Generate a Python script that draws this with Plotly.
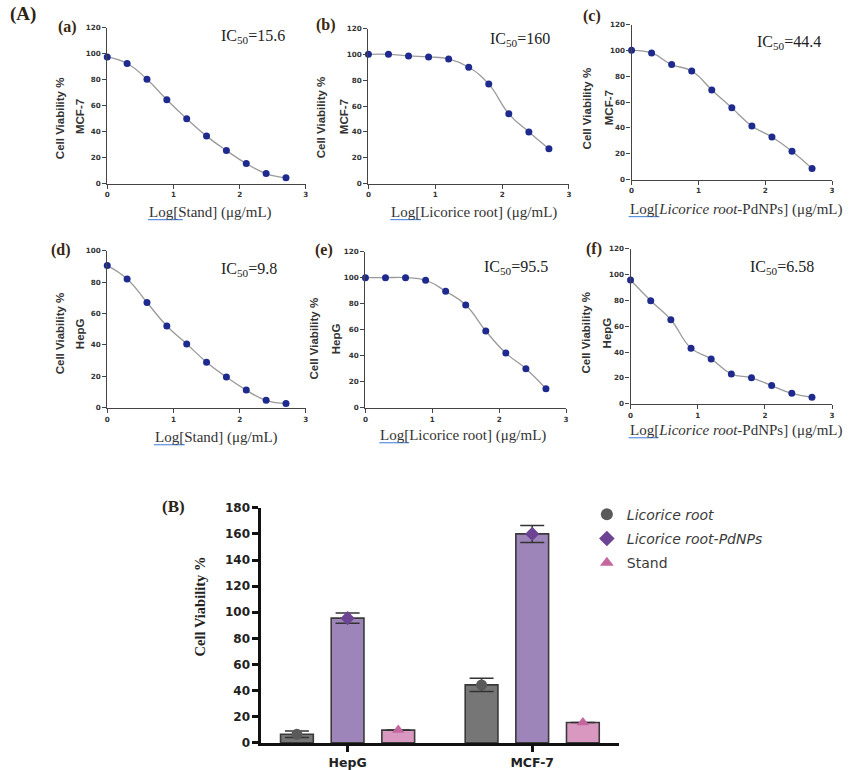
import plotly.graph_objects as go

W, H = 852, 770


def px(x):
    return x / W


def py(y):
    # the photographed page comes out slightly squeezed vertically; compensate
    return 1 - ((y - 7.5) / 0.98) / H


# ---------------- data ----------------
log_conc = [0, 0.3, 0.6, 0.9, 1.2, 1.5, 1.8, 2.1, 2.4, 2.7]
mcf7_stand = [97.4, 92.3, 80.2, 64.5, 49.9, 36.5, 25.4, 15.4, 7.7, 4.4]
mcf7_root = [100, 100, 98.8, 98, 96.5, 90, 77, 54, 40, 27]
mcf7_pdnps = [100, 98, 89, 84, 69.4, 55.5, 41.5, 33, 22, 8.5]
hepg_stand = [90.5, 82, 67, 52, 40.6, 29, 19.5, 11.2, 4.7, 2.7]
hepg_root = [100, 100, 100, 98, 89.5, 79, 59, 42, 30, 14.6]
hepg_pdnps = [95.7, 79.7, 65, 43, 34.6, 23, 20, 14, 8, 5]
ic50_text = ["15.6", "160", "44.4", "9.8", "95.5", "6.58"]
panel_letters = ["(a)", "(b)", "(c)", "(d)", "(e)", "(f)"]
panel_cells = ["MCF-7", "MCF-7", "MCF-7", "HepG", "HepG", "HepG"]
panel_xtitles = [
    "Log[Stand] (μg/mL)",
    "Log[Licorice root] (μg/mL)",
    "Log[<i>Licorice root</i>-PdNPs] (μg/mL)",
    "Log[Stand] (μg/mL)",
    "Log[Licorice root] (μg/mL)",
    "Log[<i>Licorice root</i>-PdNPs] (μg/mL)",
]
panel_ymax = [120, 120, 120, 100, 120, 120]

cell_lines = ["HepG", "MCF-7"]
bar_root = [6.58, 44.4]
bar_pdnps = [95.5, 160]
bar_stand = [9.8, 15.6]
err_root = [2.5, 5.0]
err_pdnps = [4.0, 6.5]
err_stand = [0.0, 0.0]
series_names = ["<i>Licorice root</i>", "<i>Licorice root-PdNPs</i>", "Stand"]

# ---------------- layout geometry (pixels) ----------------
panel_box = [
    (105, 305, 184, 28),
    (368, 570, 184, 29),
    (633, 835, 180, 25),
    (105, 305, 408, 251),
    (365, 567, 408, 252),
    (632, 835, 404, 249),
]
letter_pos = [(53, 27), (313, 25), (582, 16), (46, 250), (312, 250), (585, 249)]
ic50_pos = [(218, 37), (488, 40), (757, 43), (218, 270), (482, 268), (750, 268)]
ytitle1_pos = [(57, 119), (320, 118), (588, 109), (57, 334), (313, 339), (587, 333)]
ytitle2_pos = [(77, 117), (343, 117), (610, 108), (77, 334), (335, 339), (608, 333)]
xtitle_pos = [(145, 213), (389, 213), (629, 210), (151, 438), (378, 436), (629, 431)]
underline_len = [35, 31, 31, 31, 30, 30]

curves = [mcf7_stand, mcf7_root, mcf7_pdnps, hepg_stand, hepg_root, hepg_pdnps]

fig = go.Figure()
layout = dict(
    width=W, height=H,
    margin=dict(l=0, r=0, t=0, b=0),
    paper_bgcolor="white", plot_bgcolor="white",
    showlegend=True,
    annotations=[], shapes=[],
)

axis_col = "#444444"
small_tick_font = dict(family="DejaVu Sans", size=7.2, color="#333333", weight="bold")

for i in range(6):
    n = i + 1
    xa = "x" if n == 1 else f"x{n}"
    ya = "y" if n == 1 else f"y{n}"
    l, r, b, t = panel_box[i]
    layout[f"xaxis{'' if n == 1 else n}"] = dict(
        domain=[px(l), px(r)], range=[0, 3], dtick=1, anchor=ya,
        showline=True, linecolor=axis_col, linewidth=1.3,
        ticks="outside", ticklen=4, tickwidth=1.3, tickcolor=axis_col,
        showgrid=False, zeroline=False, tickfont=small_tick_font,
    )
    layout[f"yaxis{'' if n == 1 else n}"] = dict(
        domain=[py(b), py(t)], range=[0, panel_ymax[i]], dtick=20, anchor=xa,
        showline=True, linecolor=axis_col, linewidth=1.3,
        ticks="outside", ticklen=4, tickwidth=1.3, tickcolor=axis_col,
        showgrid=False, zeroline=False, tickfont=small_tick_font,
    )
    fig.add_trace(go.Scatter(
        x=log_conc, y=curves[i], mode="lines+markers", xaxis=xa, yaxis=ya,
        line=dict(shape="spline", smoothing=1.3, color="#9a9a9a", width=1.3),
        marker=dict(color="#1f2a8e", size=7),
        cliponaxis=False, showlegend=False, hoverinfo="x+y",
    ))
    ann = layout["annotations"]
    lx, ly = letter_pos[i]
    ann.append(dict(x=px(lx), y=py(ly), xref="paper", yref="paper", xanchor="left",
                    yanchor="middle", showarrow=False, text="<b>" + panel_letters[i] + "</b>",
                    font=dict(family="Liberation Serif", size=16, color="#3a2812")))
    ix, iy = ic50_pos[i]
    ann.append(dict(x=px(ix), y=py(iy), xref="paper", yref="paper", xanchor="left",
                    yanchor="middle", showarrow=False,
                    text="IC<sub>50</sub>=" + ic50_text[i],
                    font=dict(family="Liberation Serif", size=16, color="#222222")))
    t1x, t1y = ytitle1_pos[i]
    ann.append(dict(x=px(t1x), y=py(t1y), xref="paper", yref="paper", xanchor="center",
                    yanchor="middle", showarrow=False, textangle=-90,
                    text="<b>Cell Viability %</b>",
                    font=dict(family="Liberation Sans", size=11.5, color="#333333")))
    t2x, t2y = ytitle2_pos[i]
    ann.append(dict(x=px(t2x), y=py(t2y), xref="paper", yref="paper", xanchor="center",
                    yanchor="middle", showarrow=False, textangle=-90,
                    text="<b>" + panel_cells[i] + "</b>",
                    font=dict(family="Liberation Sans", size=11.5, color="#333333")))
    xtx, xty = xtitle_pos[i]
    ann.append(dict(x=px(xtx), y=py(xty), xref="paper", yref="paper", xanchor="left",
                    yanchor="middle", showarrow=False, text=panel_xtitles[i],
                    font=dict(family="Liberation Serif", size=15, color="#333333")))
    layout["shapes"].append(dict(type="line", xref="paper", yref="paper",
                                 x0=px(xtx + 1), x1=px(xtx + 1 + underline_len[i]),
                                 y0=py(xty + 7), y1=py(xty + 7),
                                 line=dict(color="#5b8fe0", width=1.2)))

# ---------------- bar chart (B) ----------------
bar_fill = ["#767676", "#9d84b9", "#d898c0"]
mark_col = ["#5a5a5a", "#6d4393", "#c4679f"]
mark_sym = ["circle", "diamond", "triangle-up"]
bar_vals = [bar_root, bar_pdnps, bar_stand]
bar_errs = [err_root, err_pdnps, err_stand]

for k in range(3):
    fig.add_trace(go.Bar(
        x=cell_lines, y=bar_vals[k], xaxis="x7", yaxis="y7",
        marker=dict(color=bar_fill[k], line=dict(color="#3a3a3a", width=1.6)),
        error_y=dict(type="data", array=bar_errs[k], visible=True, color="#333333",
                     thickness=1.5, width=12),
        offsetgroup=str(k), showlegend=False,
    ))
for k in range(3):
    fig.add_trace(go.Scatter(
        x=cell_lines, y=bar_vals[k], xaxis="x7", yaxis="y7", mode="markers",
        name=series_names[k], offsetgroup=str(k), legendgroup=str(k),
        marker=dict(symbol=mark_sym[k], color=mark_col[k], size=11),
        cliponaxis=False,
    ))

layout["barmode"] = "group"
layout["bargap"] = 0.177
layout["bargroupgap"] = 0.353
layout["scattermode"] = "group"
layout["scattergap"] = 0.177

layout["xaxis7"] = dict(
    domain=[px(260), px(620)], range=[-0.468, 1.468], type="category", anchor="y7",
    showline=True, linecolor="#111111", linewidth=2.5,
    ticks="outside", ticklen=6, tickwidth=2.5, tickcolor="#111111",
    showgrid=False, zeroline=False,
    tickfont=dict(family="DejaVu Sans", size=12.5, color="#222222", weight="bold"),
)
layout["yaxis7"] = dict(
    domain=[py(743), py(508)], range=[0, 180], dtick=20, anchor="x7",
    showline=True, linecolor="#111111", linewidth=2.5,
    ticks="outside", ticklen=6, tickwidth=2.5, tickcolor="#111111",
    showgrid=False, zeroline=False,
    tickfont=dict(family="DejaVu Sans", size=12, color="#222222", weight="bold"),
)
layout["legend"] = dict(
    x=px(588), y=py(499), xanchor="left", yanchor="top",
    bgcolor="rgba(0,0,0,0)", traceorder="grouped", tracegroupgap=3,
    itemsizing="constant",
    font=dict(family="DejaVu Sans", size=14, color="#3a3a3a"),
)

ann = layout["annotations"]
ann.append(dict(x=px(5), y=py(14), xref="paper", yref="paper", xanchor="left",
                yanchor="middle", showarrow=False, text="<b>(A)</b>",
                font=dict(family="Liberation Serif", size=19, color="#2e2416")))
ann.append(dict(x=px(158), y=py(507), xref="paper", yref="paper", xanchor="left",
                yanchor="middle", showarrow=False, text="<b>(B)</b>",
                font=dict(family="Liberation Serif", size=17, color="#2e2416")))
ann.append(dict(x=px(198), y=py(607), xref="paper", yref="paper", xanchor="center",
                yanchor="middle", showarrow=False, textangle=-90,
                text="<b>Cell Viability %</b>",
                font=dict(family="Liberation Serif", size=14.5, color="#222222")))

fig.update_layout(**layout)
page_js = (
    "document.documentElement.style.margin='0';"
    "document.body.style.margin='0';"
    "document.documentElement.style.overflow='hidden';"
    "document.body.style.overflow='hidden';"
)
fig.write_html("out.html", post_script=page_js, config={"displayModeBar": False})
